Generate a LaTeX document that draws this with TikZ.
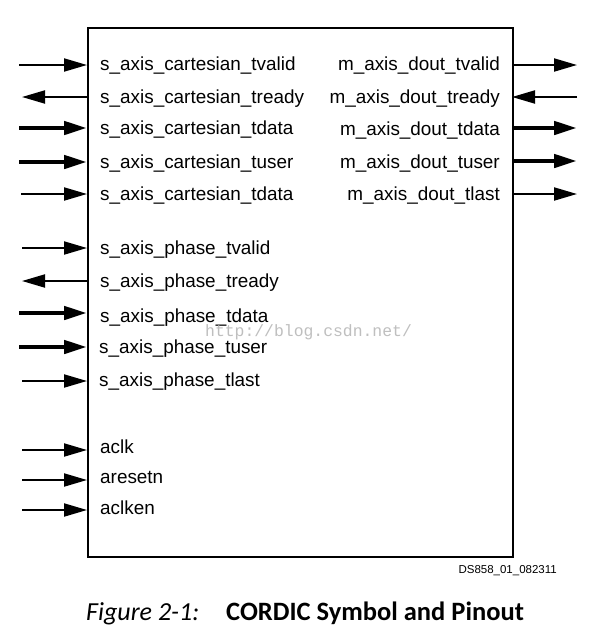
\documentclass[tikz,border=0pt]{standalone}
\usepackage{fontspec}
\setmainfont{Liberation Sans}
\newfontfamily\capfont{Carlito}
\newfontfamily\wmfont{Liberation Mono}
\usetikzlibrary{arrows.meta}
\begin{document}
\begin{tikzpicture}[x=1pt,y=-1pt,
  pinlbl/.style={font=\fontsize{18.9}{22}\selectfont, inner sep=0pt},
  lpin/.style={pinlbl, anchor=base west},
  rpin/.style={pinlbl, anchor=base east},
  sigthin/.style={line width=2pt, -{Triangle[length=23pt,width=13pt]}},
  sigthick/.style={line width=4.5pt, -{Triangle[length=23pt,width=13pt]}},
  boxline/.style={line width=2.3pt, line join=miter}
]
\useasboundingbox (0,0) rectangle (601,643);
\fill[white] (0,0) rectangle (601,643);

% block
\node[boxline, draw, minimum width=425pt, minimum height=529pt, inner sep=0pt, anchor=north west] (blk) at (87,27) {};

% left-side pin labels
\node[lpin] (l1) at (100,70) {s\_axis\_cartesian\_tvalid};
\node[lpin] (l2) at (100,103) {s\_axis\_cartesian\_tready};
\node[lpin] (l3) at (100,134) {s\_axis\_cartesian\_tdata};
\node[lpin] (l4) at (100,168) {s\_axis\_cartesian\_tuser};
\node[lpin] (l5) at (100,200) {s\_axis\_cartesian\_tdata};
\node[lpin] (p1) at (100,254) {s\_axis\_phase\_tvalid};
\node[lpin] (p2) at (100,287) {s\_axis\_phase\_tready};
\node[lpin] (p3) at (100,322) {s\_axis\_phase\_tdata};
\node[lpin] (p4) at (99,353) {s\_axis\_phase\_tuser};
\node[lpin] (p5) at (99,386) {s\_axis\_phase\_tlast};
\node[lpin] (c1) at (100,453) {aclk};
\node[lpin] (c2) at (100,483) {aresetn};
\node[lpin] (c3) at (100,514) {aclken};

% right-side pin labels
\node[rpin] (r1) at (500,70) {m\_axis\_dout\_tvalid};
\node[rpin] (r2) at (500,103) {m\_axis\_dout\_tready};
\node[rpin] (r3) at (500,135) {m\_axis\_dout\_tdata};
\node[rpin] (r4) at (500,168) {m\_axis\_dout\_tuser};
\node[rpin] (r5) at (500,200) {m\_axis\_dout\_tlast};

% pin coordinates on the block edge and free ends
\coordinate (el1) at (87,65);  \coordinate (fl1) at (19,65);
\coordinate (el2) at (87,97);  \coordinate (fl2) at (22,97);
\coordinate (el3) at (87,128); \coordinate (fl3) at (19,128);
\coordinate (el4) at (87,162); \coordinate (fl4) at (19,162);
\coordinate (el5) at (87,194); \coordinate (fl5) at (21,194);
\coordinate (ep1) at (87,248); \coordinate (fp1) at (22,248);
\coordinate (ep2) at (87,281); \coordinate (fp2) at (22,281);
\coordinate (ep3) at (87,313); \coordinate (fp3) at (19,313);
\coordinate (ep4) at (87,347); \coordinate (fp4) at (19,347);
\coordinate (ep5) at (87,381); \coordinate (fp5) at (22,381);
\coordinate (ec1) at (87,450); \coordinate (fc1) at (22,450);
\coordinate (ec2) at (87,480); \coordinate (fc2) at (22,480);
\coordinate (ec3) at (87,510); \coordinate (fc3) at (22,510);
\coordinate (er1) at (512,65);  \coordinate (fr1) at (577,65);
\coordinate (er2) at (512,97);  \coordinate (fr2) at (577,97);
\coordinate (er3) at (512,128); \coordinate (fr3) at (577,128);
\coordinate (er4) at (512,161); \coordinate (fr4) at (577,161);
\coordinate (er5) at (512,194); \coordinate (fr5) at (577,194);

% left connectors
\draw[sigthin]  (fl1) -- (el1);
\draw[sigthin]  (el2) -- (fl2);
\draw[sigthick] (fl3) -- (el3);
\draw[sigthick] (fl4) -- (el4);
\draw[sigthin]  (fl5) -- (el5);
\draw[sigthin]  (fp1) -- (ep1);
\draw[sigthin]  (ep2) -- (fp2);
\draw[sigthick] (fp3) -- (ep3);
\draw[sigthick] (fp4) -- (ep4);
\draw[sigthin]  (fp5) -- (ep5);
\draw[sigthin]  (fc1) -- (ec1);
\draw[sigthin]  (fc2) -- (ec2);
\draw[sigthin]  (fc3) -- (ec3);

% right connectors
\draw[sigthin]  (er1) -- (fr1);
\draw[sigthin]  (fr2) -- (er2);
\draw[sigthick] (er3) -- (fr3);
\draw[sigthick] (er4) -- (fr4);
\draw[sigthin]  (er5) -- (fr5);

% watermark
\node[anchor=base west, inner sep=0pt, text=black!25, font=\wmfont\fontsize{16.4}{18}\selectfont] (wm) at (205,336) {http://blog.csdn.net/};

% drawing number
\node[anchor=base east, inner sep=0pt, font=\fontsize{11.5}{13}\selectfont] (dsn) at (557,573) {DS858\_01\_082311};

% caption
\node[anchor=base west, inner sep=0pt, font=\capfont\itshape\fontsize{26}{30}\selectfont] (capa) at (86,620) {Figure 2-1:};
\node[anchor=base west, inner sep=0pt, font=\capfont\bfseries\fontsize{26.5}{30}\selectfont] (capb) at (226,620) {CORDIC Symbol and Pinout};
\end{tikzpicture}
\end{document}
